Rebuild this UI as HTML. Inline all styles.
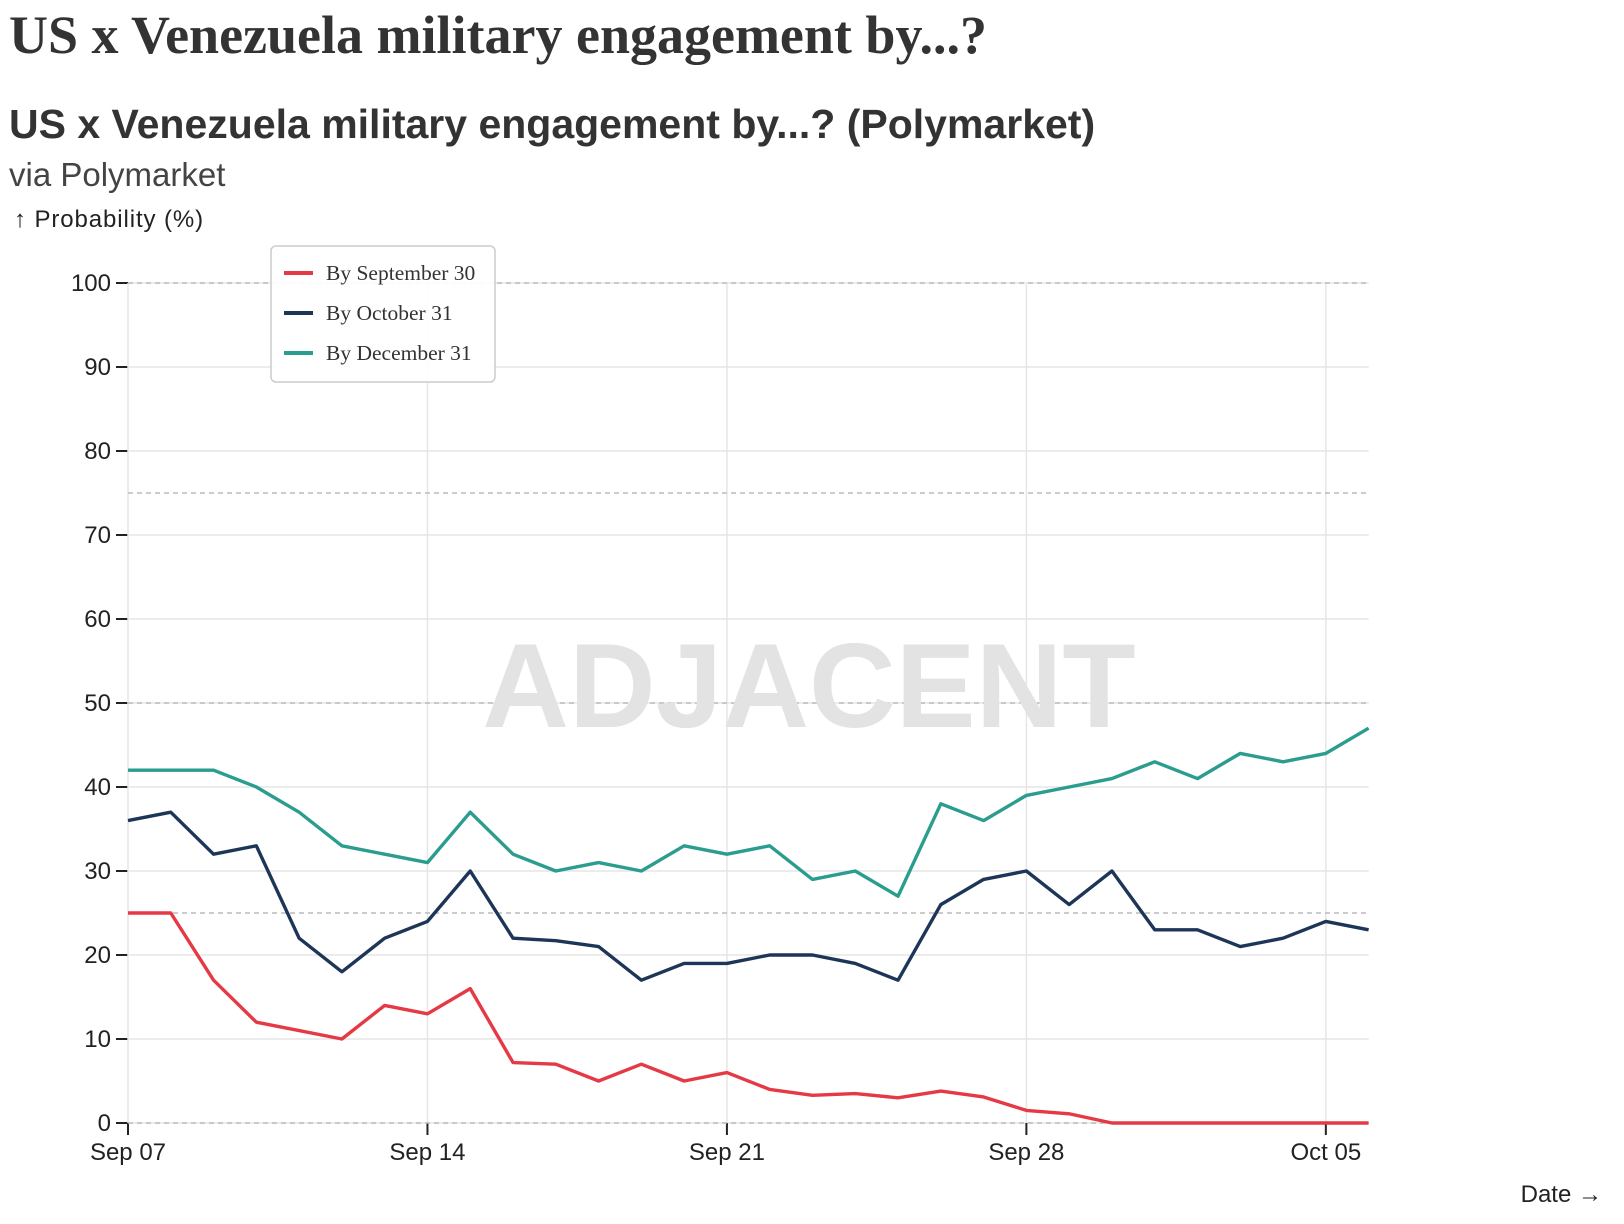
<!DOCTYPE html>
<html><head><meta charset="utf-8"><style>
body{margin:0;background:#fff;width:1624px;height:1224px;overflow:hidden;font-family:"Liberation Sans",sans-serif;color:#333}
#t1{position:absolute;left:9px;top:4px;font:bold 54px "Liberation Serif",serif;color:#333;white-space:nowrap}
#t2{position:absolute;left:9px;top:101px;font:bold 41px "Liberation Sans",sans-serif;color:#333;white-space:nowrap}
#t3{position:absolute;left:9px;top:156px;font:33px "Liberation Sans",sans-serif;color:#444}
</style></head><body>
<div id="t1">US x Venezuela military engagement by...?</div>
<div id="t2">US x Venezuela military engagement by...? (Polymarket)</div>
<div id="t3">via Polymarket</div>
<svg id="c" width="1624" height="1224" style="position:absolute;left:0;top:0"></svg>
<script>
const seriesNames=["By September 30","By October 31","By December 31"];
const colors=["#e63946","#1d3557","#2a9d8f"];
const sep30=[25,25,17,12,11,10,14,13,16,7.2,7,5,7,5,6,4,3.3,3.5,3,3.8,3.1,1.5,1.1,0,0,0,0,0,0,0];
const oct31=[36,37,32,33,22,18,22,24,30,22,21.7,21,17,19,19,20,20,19,17,26,29,30,26,30,23,23,21,22,24,23];
const dec31=[42,42,42,40,37,33,32,31,37,32,30,31,30,33,32,33,29,30,27,38,36,39,40,41,43,41,44,43,44,47];
const yTicks=[0,10,20,30,40,50,60,70,80,90,100];
const dashedY=[0,25,50,75,100];
const xTickDays=[0,7,14,21,28];
const xTickLabels=["Sep 07","Sep 14","Sep 21","Sep 28","Oct 05"];
const NS="http://www.w3.org/2000/svg";
const svg=document.getElementById('c');
const x0=128,dayW=42.78,y0=1123,yTop=283;
const X=d=>x0+d*dayW;
const Y=v=>y0-(v/100)*(y0-yTop);
const xR=X(sep30.length-1);
function mk(t,a,p){const e=document.createElementNS(NS,t);for(const k in a)e.setAttribute(k,a[k]);(p||svg).appendChild(e);return e;}
yTicks.forEach(v=>{
 const l=mk('line',{x1:x0,x2:xR,y1:Y(v),y2:Y(v),stroke:'#e6e6e6','stroke-width':1.5});
 
 
 const tk=mk('line',{x1:x0-12,x2:x0,y1:Y(v),y2:Y(v),stroke:'#222','stroke-width':2});
 
 
 const t=mk('text',{x:x0-17,y:Y(v)+8,'text-anchor':'end','font-size':24,fill:'#222','font-family':'Liberation Sans, sans-serif'});
 t.textContent=v;
 
 
});
xTickDays.forEach((d,i)=>{
 const l=mk('line',{x1:X(d),x2:X(d),y1:yTop,y2:y0,stroke:'#e6e6e6','stroke-width':1.5});
 
 
 const tk=mk('line',{x1:X(d),x2:X(d),y1:y0,y2:y0+12,stroke:'#222','stroke-width':2});
 
 
 const t=mk('text',{x:X(d),y:y0+37,'text-anchor':'middle','font-size':24,fill:'#222','font-family':'Liberation Sans, sans-serif'});
 t.textContent=xTickLabels[i];
 
 
});
dashedY.forEach(v=>{
 const l=mk('line',{x1:x0,x2:xR,y1:Y(v),y2:Y(v),stroke:'#bbb','stroke-width':1.5,'stroke-dasharray':'5,4'});
 
 
});
const wm=mk('text',{x:809,y:727,'text-anchor':'middle','font-size':120,'font-weight':'bold',fill:'#e3e3e3','font-family':'Liberation Sans, sans-serif'});
wm.textContent='ADJACENT';


const yl=mk('text',{x:14,y:227,'font-size':24,'letter-spacing':'0.9',fill:'#222','font-family':'Liberation Sans, sans-serif'});
yl.textContent='↑ Probability (%)';


const xl=mk('text',{x:1602,y:1202,'text-anchor':'end','font-size':24,fill:'#222','font-family':'Liberation Sans, sans-serif'});
xl.textContent='Date →';


[sep30,oct31,dec31].forEach((arr,i)=>{
 const p=mk('path',{d:arr.map((v,d)=>(d?'L':'M')+X(d)+','+Y(v)).join(''),fill:'none',stroke:colors[i],'stroke-width':3.4,'stroke-linejoin':'round'});
 
 
});
const lg=mk('g',{});


mk('rect',{x:271,y:246,width:224,height:136,rx:5,fill:'rgba(255,255,255,0.92)',stroke:'#ccc','stroke-width':1.5},lg);
seriesNames.forEach((n,i)=>{
 const g=mk('g',{},lg);
 
 
 const yy=273+i*40;
 mk('line',{x1:284,x2:313,y1:yy,y2:yy,stroke:colors[i],'stroke-width':4},g);
 const t=mk('text',{x:326,y:yy+7,'font-size':21.5,fill:'#333','font-family':'Liberation Serif, serif'},g);
 t.textContent=n;
});
</script>
</body></html>
